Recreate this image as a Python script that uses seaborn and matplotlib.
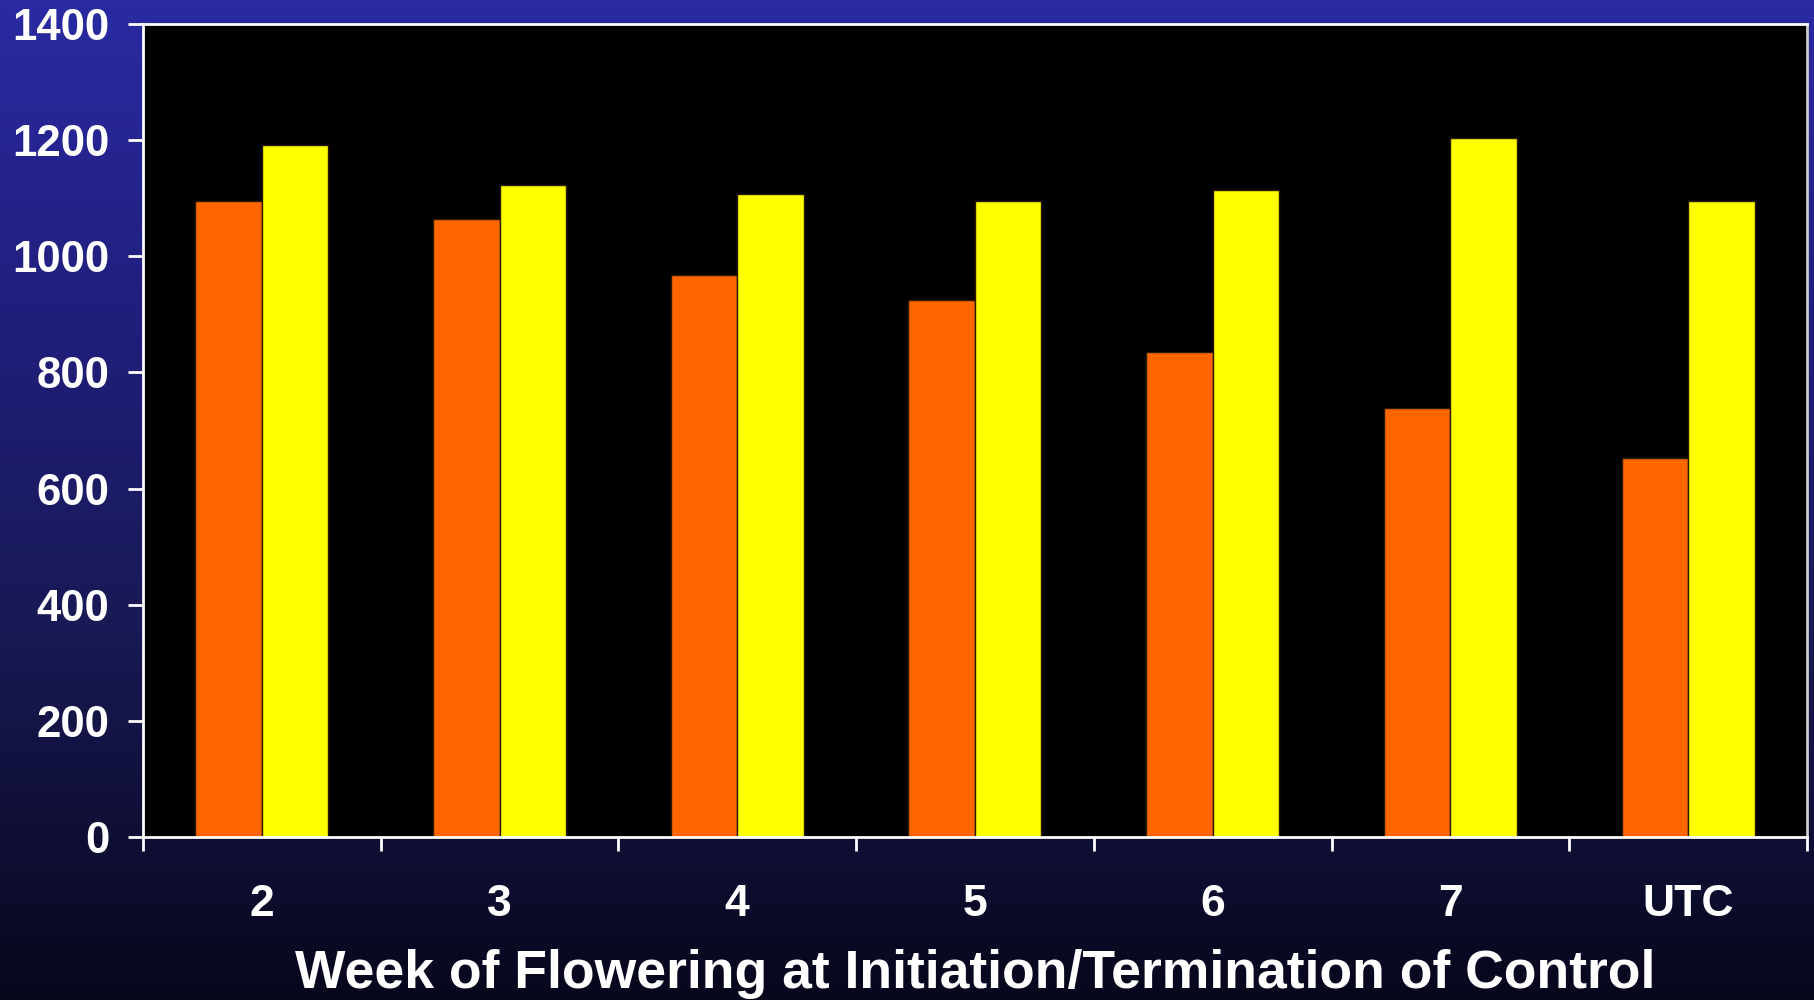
import numpy as np
import pandas as pd
import matplotlib
matplotlib.use("Agg")
import matplotlib.pyplot as plt
from matplotlib.colors import LinearSegmentedColormap
import seaborn as sns

# ---- data ----
weeks = ["2", "3", "4", "5", "6", "7", "UTC"]
series_a = [1095, 1065, 967, 925, 835, 738, 653]      # orange
series_b = [1192, 1123, 1107, 1095, 1115, 1204, 1095]  # yellow
series_names = ["A", "B"]
y_ticks = [0, 200, 400, 600, 800, 1000, 1200, 1400]
x_label = "Week of Flowering at Initiation/Termination of Control"

df = pd.DataFrame({
    "week": weeks * 2,
    "value": series_a + series_b,
    "series": [series_names[0]] * len(weeks) + [series_names[1]] * len(weeks),
})

sns.set_theme(style="white")
plt.rcParams["font.family"] = ["Liberation Sans", "DejaVu Sans"]
plt.rcParams["font.weight"] = "bold"

fig = plt.figure(figsize=(18.14, 10), dpi=100)

# gradient background
bg = fig.add_axes([0, 0, 1, 1], zorder=-10)
cmap = LinearSegmentedColormap.from_list(
    "bg", [(0.0, "#2A2AA2"), (0.33, "#201E7A"), (0.63, "#191955"), (1.0, "#07071C")])
grad = np.linspace(0, 1, 256).reshape(-1, 1)
bg.imshow(grad, aspect="auto", cmap=cmap, extent=[0, 1, 0, 1], origin="upper")
bg.set_axis_off()

ax = fig.add_axes([0.0788, 0.163, 0.9173, 0.813])
ax.set_facecolor("black")

sns.barplot(data=df, x="week", y="value", hue="series", order=weeks,
            palette=["#FF6600", "#FFFF00"], width=0.56, gap=0,
            edgecolor="#2a1a00", linewidth=1.0, legend=False, ax=ax,
            saturation=1)

ax.set_ylim(0, 1400)
ax.set_xlim(-0.5, len(weeks) - 0.5)
ax.set_yticks(y_ticks)
ax.set_yticklabels([str(v) for v in y_ticks])

# x ticks: labels at centers, tick marks at boundaries
ax.set_xticks(range(len(weeks)))
ax.set_xticklabels(weeks)
ax.set_xticks(np.arange(-0.5, len(weeks), 1.0), minor=True)
ax.tick_params(axis="x", which="major", length=0, pad=34, labelsize=32,
               labelcolor="white")
ax.tick_params(axis="x", which="minor", length=10, width=2, color="white",
               direction="out", bottom=True)
ax.tick_params(axis="y", which="major", length=11, width=2, color="white",
               direction="out", left=True, pad=13, labelsize=31.5,
               labelcolor="white")
for lab in ax.get_xticklabels() + ax.get_yticklabels():
    lab.set_fontweight("bold")

for side, sp in ax.spines.items():
    sp.set_visible(True)
    sp.set_color("white")
    sp.set_linewidth(2)
ax.spines["right"].set_color("#cccccc")

ax.set_ylabel("")
ax.set_xlabel(x_label, fontsize=38.5, fontweight="bold", color="white",
              labelpad=17)

fig.savefig("out.png", dpi=100)
